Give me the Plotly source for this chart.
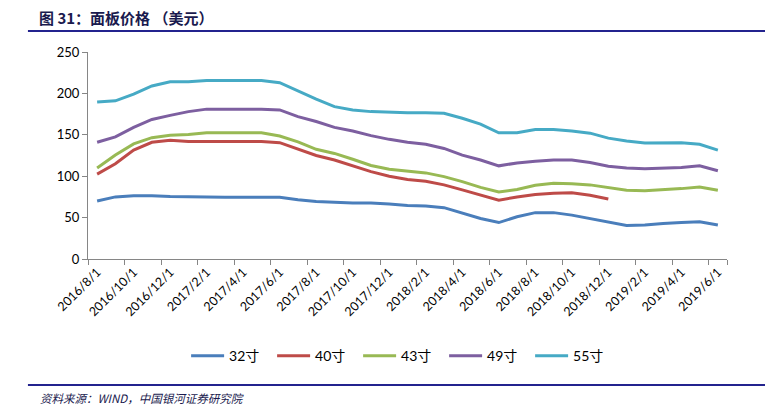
import plotly.graph_objects as go

months = ["2016/8/1", "2016/9/1", "2016/10/1", "2016/11/1", "2016/12/1",
          "2017/1/1", "2017/2/1", "2017/3/1", "2017/4/1", "2017/5/1", "2017/6/1",
          "2017/7/1", "2017/8/1", "2017/9/1", "2017/10/1", "2017/11/1", "2017/12/1",
          "2018/1/1", "2018/2/1", "2018/3/1", "2018/4/1", "2018/5/1", "2018/6/1",
          "2018/7/1", "2018/8/1", "2018/9/1", "2018/10/1", "2018/11/1", "2018/12/1",
          "2019/1/1", "2019/2/1", "2019/3/1", "2019/4/1", "2019/5/1", "2019/6/1"]

s32 = [70, 75, 76.5, 76.5, 75.5, 75, 74.5, 74.5, 74.5, 74.5, 74.5, 71.5, 69.5, 68.5,
       67.5, 67.5, 66.5, 64.5, 64, 62, 55.5, 49, 44, 51, 56, 56, 53, 49, 45, 40.5,
       41, 43, 44, 45, 41]
s40 = [102.5, 115, 131.5, 141, 143.5, 142, 142, 142, 142, 142, 140.5, 133, 125, 119.5,
       112.5, 105.5, 100, 96, 94, 89.5, 83.5, 77.5, 71, 75, 78, 79.5, 80, 77, 72.5,
       None, None, None, None, None, None]
s43 = [110, 125.5, 139, 146.5, 149.5, 150.5, 152.5, 152.5, 152.5, 152.5, 148.5, 141.5,
       132.5, 127.5, 120.5, 113, 108.5, 106, 104, 99.5, 93.5, 86.5, 81, 84, 89, 91.5,
       91, 89.5, 86.5, 83, 82.5, 83.5, 85, 87, 83]
s49 = [141, 147.5, 159, 168.5, 173.5, 178, 181, 181, 181, 181, 180, 172, 166, 159,
       154.5, 149, 144.5, 141, 138.5, 133.5, 125.5, 119.5, 112.5, 116, 118, 119.5,
       119.5, 116.5, 112, 110, 109, 109.5, 110.5, 112.5, 106.5]
s55 = [189.5, 191, 199, 209, 214, 214, 215.5, 215.5, 215.5, 215.5, 213, 203, 193, 184,
       180, 178, 177, 176.5, 176.5, 176, 170, 163, 152.5, 152.5, 156.5, 156.5, 154.5,
       152, 146, 142.5, 140, 140.5, 140.5, 138.5, 131.5]

names = ["32寸", "40寸", "43寸", "49寸", "55寸"]
colors = ["#4A7EBB", "#BE4B48", "#98B954", "#7D5FA0", "#46AAC5"]
series = [s32, s40, s43, s49, s55]

title_text = "图 31：面板价格 （美元）"
source_text = "资料来源：WIND，中国银河证券研究院"

fig = go.Figure()
for nm, col, ys in zip(names, colors, series):
    fig.add_trace(go.Scatter(x=months, y=ys, name=nm, mode="lines",
                             line=dict(color=col, width=3), connectgaps=False))

# the page has an 8px body margin, so the figure is laid out 8px up/left
fig.update_layout(
    width=773, height=405,
    margin=dict(l=80, r=54, t=44, b=154, autoexpand=False),
    paper_bgcolor="white", plot_bgcolor="white",
    font=dict(family="Lato, Noto Sans CJK SC", size=12, color="#000000"),
    showlegend=True,
    legend=dict(orientation="h", x=0.49, xanchor="center", y=-0.469, yanchor="middle",
                font=dict(family="Lato, Noto Sans CJK SC", size=14, color="#000000"),
                itemwidth=33, entrywidth=38, entrywidthmode="pixels",
                tracegroupgap=0, bgcolor="rgba(0,0,0,0)"),
)

fig.update_xaxes(
    type="category", categoryorder="array", categoryarray=months,
    range=[-0.5, len(months) - 0.5], automargin=False,
    tickmode="array", tickvals=months[::2], ticktext=months[::2],
    tickangle=-45, tickson="boundaries",
    ticks="outside", ticklen=5, tickcolor="#868686",
    showline=True, linecolor="#868686", linewidth=1,
    showgrid=False, zeroline=False,
    tickfont=dict(family="Lato", size=12.5, color="#000000"),
)
fig.update_yaxes(
    range=[0, 250], tickmode="linear", tick0=0, dtick=50, automargin=False,
    ticks="outside", ticklen=5, tickcolor="#868686",
    showline=True, linecolor="#868686", linewidth=1,
    showgrid=False, zeroline=False,
    tickfont=dict(family="Lato", size=13, color="#000000"),
)

# header and footer rules
fig.add_shape(type="line", xref="paper", yref="paper", x0=-0.094, x1=1.064,
              y0=1.101, y1=1.101, line=dict(color="#23238E", width=2))
fig.add_shape(type="line", xref="paper", yref="paper", x0=-0.094, x1=1.064,
              y0=-0.609, y1=-0.609, line=dict(color="#23238E", width=2))

fig.add_annotation(text="<b>" + title_text + "</b>", xref="paper", yref="paper",
                   x=-0.08, y=1.166, xanchor="left", yanchor="middle", showarrow=False,
                   font=dict(family="Noto Sans CJK SC", size=15, color="#1a1a4e"))
fig.add_annotation(text="<i>" + source_text + "</i>", xref="paper", yref="paper",
                   x=-0.078, y=-0.672, xanchor="left", yanchor="middle", showarrow=False,
                   font=dict(family="Noto Sans CJK SC", size=11.5, color="#1a1a4e"))

fig.write_html("out.html")
